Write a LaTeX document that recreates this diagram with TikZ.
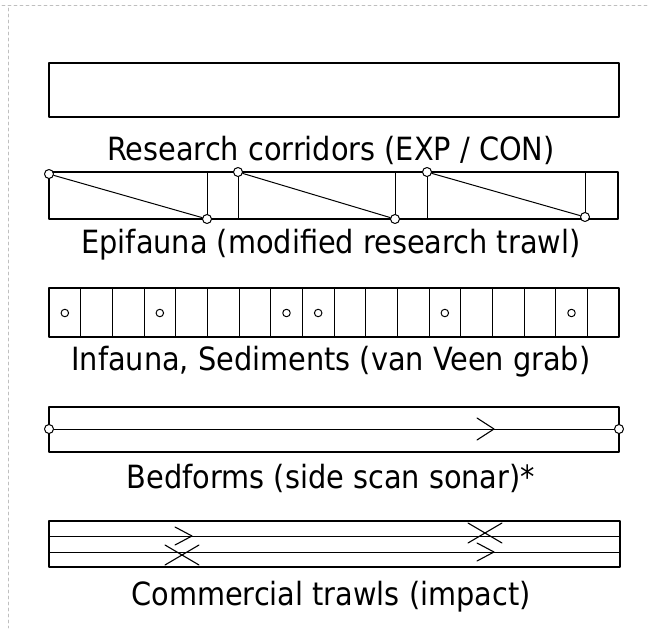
\documentclass[tikz,border=0pt]{standalone}
\usepackage{fontspec}
\setmainfont{DejaVu Sans Condensed}
\usetikzlibrary{arrows.meta}
\tikzset{
    strip/.style = {draw, line width=1.3pt},
    thin/.style = {line width=1pt},
    lbl/.style = {anchor=base, inner sep=0pt, font=\fontsize{32}{35}\selectfont},
    stn/.style = {circle, draw, fill=white, line width=1pt, minimum size=9pt, inner sep=0pt},
    chevron/.pic = {
    \draw[line width=1.1pt] (-17,-#1) -- (0,0) -- (-17,#1);
    },
    crossing/.pic = {
    \draw[line width=1.1pt] (-17,-#1) -- (17,#1);
    \draw[line width=1.1pt] (-17,#1) -- (17,-#1);
    }
}

\begin{document}
\begin{tikzpicture}[x=1pt, y=-1pt, line cap=round, line join=round]
\useasboundingbox (0,0) rectangle (649,632);
% faint edges of the scanned page
\draw [black!25, dashed, line width=0.6pt] (2,5) -- (647,5);
\draw [black!25, dashed, line width=0.6pt] (8,8) -- (8,628);

% research corridors
\draw [strip] (49,63) rectangle (619,117);
\node [lbl] (corridor) at (331,160) {Research corridors (EXP / CON)};

% epifauna
\draw [strip] (49,172) rectangle (618,219);
\draw [thin] (207,172) -- (207,219);
\draw [thin] (238,172) -- (238,219);
\draw [thin] (395,172) -- (395,219);
\draw [thin] (427,172) -- (427,219);
\draw [thin] (585,172) -- (585,219);
\node [stn] (t1) at (49,174) {};
\node [stn] (b1) at (207,219) {};
\node [stn] (t2) at (238,172) {};
\node [stn] (b2) at (395,219) {};
\node [stn] (t3) at (427,172) {};
\node [stn] (b3) at (585,217) {};
\draw [thin] (t1) -- (b1);
\draw [thin] (t2) -- (b2);
\draw [thin] (t3) -- (b3);
\node [lbl] (epifauna) at (331,253) {Epifauna (modified research trawl)};

% infauna, sediments
\draw [strip] (49,288) rectangle (619,337);
\foreach \i in {1,...,17}
    \draw [thin] ({49+\i*570/18},288) -- ({49+\i*570/18},337);
\foreach \i in {1,4,8,9,13,17}
    \node [stn, minimum size=7.5pt] (g\i) at ({49+(\i-0.5)*570/18},313) {};
\node [lbl] (infauna) at (331,370) {Infauna, Sediments (van Veen grab)};

% bedforms
\draw [strip] (49,407) rectangle (619,452);
\node [stn] (s1) at (49,429) {};
\node [stn] (s2) at (619,429) {};
\draw [thin] (s1) -- (s2);
\path (494,429) pic {chevron=11};
\node [lbl] (bedforms) at (331,488) {Bedforms (side scan sonar)*};

% commercial trawls
\draw [strip] (49,521) rectangle (620,567);
\coordinate (u1) at (49,536);
\coordinate (u2) at (620,536);
\coordinate (l1) at (49,552);
\coordinate (l2) at (620,552);
\draw [thin] (u1) -- (u2);
\draw [thin] (l1) -- (l2);
\path (192,536) pic {chevron=9};
\path (182,555) pic {crossing=10};
\path (485,533) pic {crossing=10};
\path (494,552) pic {chevron=9};
\node [lbl] (trawls) at (331,605) {Commercial trawls (impact)};
\end{tikzpicture}
\end{document}
